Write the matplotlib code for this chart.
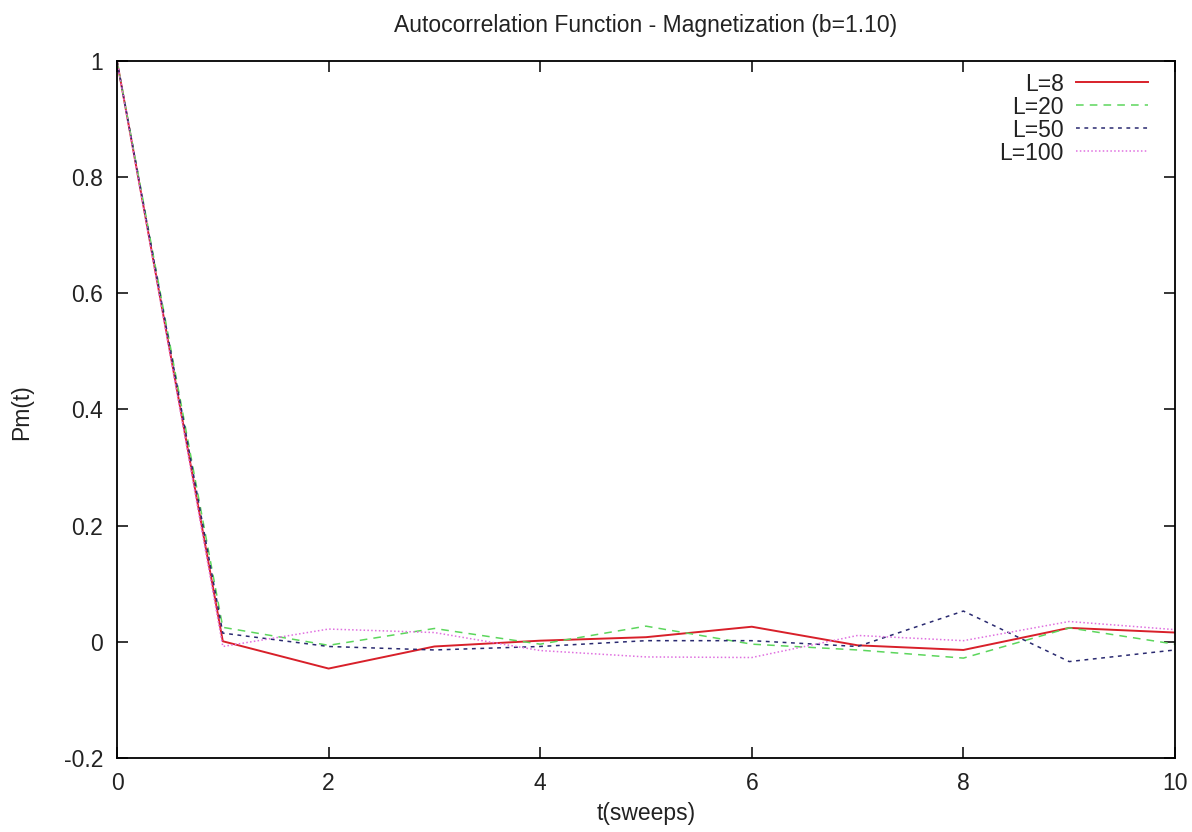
import matplotlib
matplotlib.use("Agg")
import matplotlib.pyplot as plt

t = [0, 1, 2, 3, 4, 5, 6, 7, 8, 9, 10]
L8 = [1.0, 0.001, -0.046, -0.008, 0.002, 0.008, 0.026, -0.006, -0.014, 0.024, 0.016]
L20 = [1.0, 0.025, -0.006, 0.023, -0.004, 0.027, -0.004, -0.014, -0.028, 0.024, -0.004]
L50 = [1.0, 0.015, -0.008, -0.014, -0.008, 0.002, 0.002, -0.008, 0.053, -0.034, -0.014]
L100 = [1.0, -0.008, 0.022, 0.016, -0.015, -0.026, -0.027, 0.011, 0.002, 0.035, 0.021]
labels = ["L=8", "L=20", "L=50", "L=100"]
xticks = [0, 2, 4, 6, 8, 10]
yticks = [-0.2, 0, 0.2, 0.4, 0.6, 0.8, 1]
ytick_labels = ["-0.2", "0", "0.2", "0.4", "0.6", "0.8", "1"]

plt.rcParams['font.family'] = ['Liberation Sans', 'DejaVu Sans']
W, H = 1192, 832
fig = plt.figure(figsize=(W / 100, H / 100), dpi=100)
ax = fig.add_axes([117 / W, 1 - 758 / H, (1175 - 117) / W, (758 - 61) / H])

ax.plot(t, L8, color="#d8202a", lw=1.4, ls="-", label=labels[0])
ax.plot(t, L20, color="#5cd65c", lw=1.1, ls=(0, (5, 4)), label=labels[1])
ax.plot(t, L50, color="#2a2a70", lw=1.1, ls=(0, (2.5, 3)), label=labels[2])
ax.plot(t, L100, color="#e070e0", lw=1.1, ls=(0, (1, 1.5)), label=labels[3])

ax.set_xlim(0, 10)
ax.set_ylim(-0.2, 1)
ax.set_xticks(xticks)
ax.set_xticklabels([str(v) for v in xticks])
ax.set_yticks(yticks)
ax.set_yticklabels(ytick_labels)
ax.tick_params(direction="in", length=8, width=1.1, top=True, right=True,
               labelsize=16.5, pad=10, colors="black")
ax.tick_params(axis="y", labelcolor="#222222")
ax.tick_params(axis="x", labelcolor="#222222")
for s in ax.spines.values():
    s.set_linewidth(1.3)

ax.set_title("Autocorrelation Function - Magnetization (b=1.10)", fontsize=16.5,
             pad=21, color="#222222")
ax.set_xlabel("t(sweeps)", fontsize=16.5, labelpad=5, color="#222222")
fig.text(22 / W, 1 - 412 / H, "Pm(t)", rotation=90, fontsize=16.5,
         ha="center", va="center", color="#222222")

leg = ax.legend(loc="upper right", bbox_to_anchor=(1.0, 1.0 + 16 / 697),
                frameon=False, markerfirst=False, fontsize=16.5,
                handlelength=3.1, handletextpad=0.55, labelspacing=0.0,
                borderaxespad=0.8, borderpad=0.4)
for txt in leg.get_texts():
    txt.set_ha("right")
    txt.set_color("#222222")

fig.savefig("out.png", dpi=100)
